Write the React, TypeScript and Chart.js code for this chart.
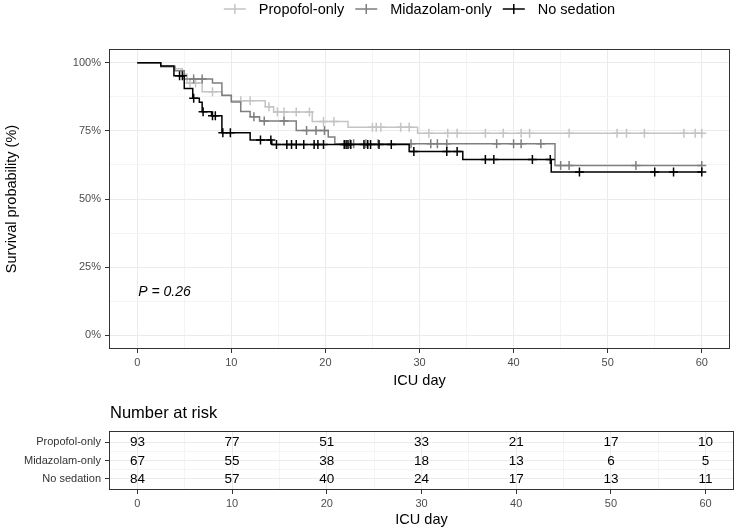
import React, { useEffect, useRef } from 'react';
import { Chart, registerables } from 'chart.js';

Chart.register(...registerables);

const FONT = "'Liberation Sans', Arial, Helvetica, sans-serif";

// ---------- data ----------
const groups = ['Propofol-only', 'Midazolam-only', 'No sedation'];
const groupColors = ['#C4C4C4', '#7F7F7F', '#000000'];

const propofolTimes = [0, 2.5, 4.0, 4.8, 5.3, 6.9, 9.0, 10.0, 13.6, 14.5, 18.6, 22.4, 29.8];
const propofolSurv = [100, 98.9, 97.8, 95.7, 92.5, 89.3, 87.9, 86.0, 83.8, 81.9, 78.4, 76.3, 74.1];
const propofolCensor = [5.6, 6.2, 8.0, 11.0, 12.0, 14.0, 14.9, 15.6, 16.9, 18.3, 19.8, 20.9, 25.0, 25.4, 25.9, 28.0, 28.9, 31.0, 33.0, 34.0, 37.0, 38.9, 40.8, 41.7, 45.9, 51.0, 52.0, 53.9, 58.1, 59.3, 60.0];

const midazolamTimes = [0, 2.5, 4.0, 5.0, 8.0, 9.0, 10.0, 11.0, 12.0, 13.0, 16.9, 20.3, 21.0, 44.4];
const midazolamSurv = [100, 98.5, 97.0, 94.0, 92.5, 88.0, 85.6, 82.1, 80.2, 78.6, 75.1, 72.7, 70.3, 62.3];
const midazolamCensor = [6.0, 6.9, 12.4, 13.5, 15.6, 18.0, 19.0, 19.9, 22.6, 23.0, 24.3, 25.6, 29.1, 31.2, 31.9, 32.9, 38.2, 40.0, 40.8, 42.9, 45.0, 45.9, 53.0, 60.0];

const noSedationTimes = [0, 2.5, 3.9, 5.0, 5.9, 6.6, 6.9, 7.9, 9.0, 12.0, 14.3, 28.9, 34.6, 44.0];
const noSedationSurv = [100, 98.8, 95.2, 90.5, 86.9, 85.5, 82.0, 80.5, 74.3, 71.6, 70.0, 67.4, 64.5, 59.9];
const noSedationCensor = [4.5, 4.8, 6.0, 7.0, 8.0, 8.3, 9.1, 9.9, 13.1, 14.2, 14.8, 15.9, 16.4, 16.9, 17.7, 18.8, 19.2, 19.8, 22.0, 22.2, 22.4, 22.7, 24.1, 24.5, 24.8, 25.7, 27.0, 29.4, 32.9, 34.0, 37.0, 37.9, 42.0, 43.9, 47.0, 55.0, 57.0, 60.0];

const endTime = 60;
const xTickValues = [0, 10, 20, 30, 40, 50, 60];
const yTickValues = [0, 25, 50, 75, 100];

const riskTimes = [0, 10, 20, 30, 40, 50, 60];
const riskPropofol = [93, 77, 51, 33, 21, 17, 10];
const riskMidazolam = [67, 55, 38, 18, 13, 6, 5];
const riskNoSedation = [84, 57, 40, 24, 17, 13, 11];

const pValueText = 'P = 0.26';
const pValueAt = { x: 0.1, y: 16 };

// ---------- helpers ----------
function survAt(times: number[], surv: number[], t: number) {
  let s = surv[0];
  for (let i = 0; i < times.length; i++) if (times[i] <= t) s = surv[i];
  return s;
}
function withMinor(vals: number[]) {
  const out: number[] = [];
  for (let i = 0; i < vals.length; i++) {
    out.push(vals[i]);
    if (i < vals.length - 1) out.push((vals[i] + vals[i + 1]) / 2);
  }
  return out;
}
const near = (a: number, list: number[]) => list.some((v) => Math.abs(v - a) < 1e-6);

const series = [
  { name: groups[0], color: groupColors[0], times: propofolTimes, surv: propofolSurv, censor: propofolCensor, order: 2 },
  { name: groups[1], color: groupColors[1], times: midazolamTimes, surv: midazolamSurv, censor: midazolamCensor, order: 1 },
  { name: groups[2], color: groupColors[2], times: noSedationTimes, surv: noSedationSurv, censor: noSedationCensor, order: 0 },
];
const riskRows = [riskPropofol, riskMidazolam, riskNoSedation];

const MAJOR = '#EBEBEB';
const MINOR = '#F4F4F4';
const DARK = '#333333';
const TICKTXT = '#4D4D4D';

function xScale(height: number, majors: number[]) {
  return {
    type: 'linear' as const,
    min: -3,
    max: 63,
    afterBuildTicks: (axis: any) => {
      axis.ticks = withMinor(majors).map((v) => ({ value: v }));
    },
    ticks: {
      autoSkip: false,
      maxRotation: 0,
      padding: 3,
      color: TICKTXT,
      font: { size: 11, family: FONT },
      callback: (v: any) => (near(Number(v), majors) ? String(v) : ''),
    },
    grid: {
      color: (c: any) => (c.tick && near(c.tick.value, majors) ? MAJOR : MINOR),
      lineWidth: 1,
      tickLength: 4,
      tickWidth: 1,
      tickColor: (c: any) => (c.tick && near(c.tick.value, majors) ? DARK : 'rgba(0,0,0,0)'),
    },
    border: { display: false },
    title: {
      display: true,
      text: 'ICU day',
      color: '#000',
      font: { size: 14.5, family: FONT },
      padding: { top: 0, bottom: 2 },
    },
    afterFit: (s: any) => {
      s.height = height;
    },
  };
}

const panelBorder = {
  id: 'panelBorder',
  afterDraw(chart: any) {
    const { ctx, chartArea: a } = chart;
    ctx.save();
    ctx.strokeStyle = DARK;
    ctx.lineWidth = 1;
    ctx.strokeRect(Math.round(a.left) + 0.5, Math.round(a.top) + 0.5, Math.round(a.right - a.left) - 1, Math.round(a.bottom - a.top) - 1);
    ctx.restore();
  },
};

const legendPlugin = {
  id: 'kmLegend',
  afterDraw(chart: any) {
    const { ctx, chartArea: a } = chart;
    ctx.save();
    ctx.font = `14.5px ${FONT}`;
    const keyW = 22, gap = 13, spacing = 11;
    const widths = series.map((s) => ctx.measureText(s.name).width);
    const total = series.length * (keyW + gap) + widths.reduce((p, c) => p + c, 0) + spacing * (series.length - 1);
    let x = (a.left + a.right) / 2 - total / 2;
    const y = 9;
    series.forEach((s, i) => {
      ctx.strokeStyle = s.color;
      ctx.lineWidth = 1.5;
      ctx.beginPath();
      ctx.moveTo(x, y);
      ctx.lineTo(x + keyW, y);
      const cx = x + keyW / 2;
      ctx.moveTo(cx, y - 5);
      ctx.lineTo(cx, y + 5);
      ctx.stroke();
      ctx.fillStyle = '#000';
      ctx.textAlign = 'left';
      ctx.textBaseline = 'middle';
      ctx.fillText(s.name, x + keyW + gap, y + 0.5);
      x += keyW + gap + widths[i] + spacing;
    });
    ctx.restore();
  },
};

const pValuePlugin = {
  id: 'pValue',
  afterDraw(chart: any) {
    const { ctx, scales } = chart;
    ctx.save();
    ctx.font = `italic 14px ${FONT}`;
    ctx.fillStyle = '#000';
    ctx.textAlign = 'left';
    ctx.textBaseline = 'middle';
    ctx.fillText(pValueText, scales.x.getPixelForValue(pValueAt.x), scales.y.getPixelForValue(pValueAt.y));
    ctx.restore();
  },
};

const riskTextPlugin = {
  id: 'riskText',
  afterDatasetsDraw(chart: any) {
    const { ctx } = chart;
    ctx.save();
    ctx.font = `13.5px ${FONT}`;
    ctx.fillStyle = '#000';
    ctx.textAlign = 'center';
    ctx.textBaseline = 'middle';
    chart.data.datasets.forEach((ds: any, di: number) => {
      const meta = chart.getDatasetMeta(di);
      meta.data.forEach((el: any, i: number) => {
        ctx.fillText(String(riskRows[di][i]), el.x, el.y + 0.5);
      });
    });
    ctx.restore();
  },
};

const riskTitlePlugin = {
  id: 'riskTitle',
  afterDraw(chart: any) {
    const { ctx, chartArea: a } = chart;
    ctx.save();
    ctx.font = `16.5px ${FONT}`;
    ctx.fillStyle = '#000';
    ctx.textAlign = 'left';
    ctx.textBaseline = 'middle';
    ctx.fillText('Number at risk', a.left + 1, 21);
    ctx.restore();
  },
};

export default function App() {
  const mainRef = useRef<HTMLCanvasElement>(null);
  const tableRef = useRef<HTMLCanvasElement>(null);

  useEffect(() => {
    Chart.defaults.font.family = FONT;
    const datasets: any[] = [];
    series.forEach((s) => {
      datasets.push({
        label: s.name,
        data: [...s.times.map((t, i) => ({ x: t, y: s.surv[i] })), { x: endTime, y: s.surv[s.surv.length - 1] }],
        showLine: true,
        stepped: true,
        borderColor: s.color,
        backgroundColor: s.color,
        borderWidth: 1.5,
        pointRadius: 0,
        fill: false,
        order: s.order,
      });
      datasets.push({
        label: s.name + ' censored',
        data: s.censor.map((t) => ({ x: t, y: survAt(s.times, s.surv, t) })),
        showLine: false,
        pointStyle: 'cross',
        pointRadius: 4.5,
        borderColor: s.color,
        backgroundColor: s.color,
        borderWidth: 1.5,
        order: s.order,
      });
    });

    const main = new Chart(mainRef.current!, {
      type: 'scatter',
      data: { datasets },
      options: {
        responsive: false,
        animation: false,
        events: [],
        layout: { padding: { top: 49, right: 2, left: 0, bottom: 0 } },
        plugins: { legend: { display: false }, tooltip: { enabled: false } },
        scales: {
          x: xScale(43, xTickValues) as any,
          y: {
            type: 'linear',
            min: -5,
            max: 105,
            afterBuildTicks: (axis: any) => {
              axis.ticks = withMinor(yTickValues).map((v) => ({ value: v }));
            },
            ticks: {
              autoSkip: false,
              padding: 4,
              color: TICKTXT,
              font: { size: 11, family: FONT },
              callback: (v: any) => (near(Number(v), yTickValues) ? `${v}%` : ''),
            },
            grid: {
              color: (c: any) => (c.tick && near(c.tick.value, yTickValues) ? MAJOR : MINOR),
              lineWidth: 1,
              tickLength: 4,
              tickWidth: 1,
              tickColor: (c: any) => (c.tick && near(c.tick.value, yTickValues) ? DARK : 'rgba(0,0,0,0)'),
            },
            border: { display: false },
            title: {
              display: true,
              text: 'Survival probability (%)',
              color: '#000',
              font: { size: 14.5, family: FONT },
              padding: { top: 3, bottom: 0 },
            },
            afterFit: (s: any) => {
              s.width = 109;
            },
          } as any,
        },
      },
      plugins: [panelBorder, legendPlugin, pValuePlugin],
    });

    const rowValues = groups.map((_, i) => i + 1);
    const table = new Chart(tableRef.current!, {
      type: 'scatter',
      data: {
        datasets: groups.map((g, gi) => ({
          label: g,
          data: riskTimes.map((t) => ({ x: t, y: rowValues[gi] })),
          pointRadius: 0,
          showLine: false,
        })),
      },
      options: {
        responsive: false,
        animation: false,
        events: [],
        layout: { padding: { top: 39, right: 2, left: 0, bottom: 0 } },
        plugins: { legend: { display: false }, tooltip: { enabled: false } },
        scales: {
          x: xScale(41, xTickValues) as any,
          y: {
            type: 'linear',
            min: 0.4,
            max: 3.6,
            reverse: true,
            afterBuildTicks: (axis: any) => {
              axis.ticks = withMinor(rowValues).map((v) => ({ value: v }));
            },
            ticks: {
              autoSkip: false,
              padding: 4,
              color: DARK,
              font: { size: 11, family: FONT },
              callback: (v: any) => {
                const n = Number(v);
                return near(n, rowValues) ? groups[Math.round(n) - 1] : '';
              },
            },
            grid: {
              color: (c: any) => (c.tick && near(c.tick.value, rowValues) ? MAJOR : MINOR),
              lineWidth: 1,
              tickLength: 4,
              tickWidth: 1,
              tickColor: (c: any) => (c.tick && near(c.tick.value, rowValues) ? DARK : 'rgba(0,0,0,0)'),
            },
            border: { display: false },
            afterFit: (s: any) => {
              s.width = 109;
            },
          } as any,
        },
      },
      plugins: [panelBorder, riskTextPlugin, riskTitlePlugin],
    });

    return () => {
      main.destroy();
      table.destroy();
    };
  }, []);

  return (
    <div style={{ position: 'absolute', left: 0, top: 0, width: 736, height: 531, background: '#fff' }}>
      <canvas ref={mainRef} width={736} height={392} style={{ position: 'absolute', left: 0, top: 0, width: 736, height: 392 }} />
      <canvas ref={tableRef} width={736} height={139} style={{ position: 'absolute', left: 0, top: 392, width: 736, height: 139 }} />
    </div>
  );
}
